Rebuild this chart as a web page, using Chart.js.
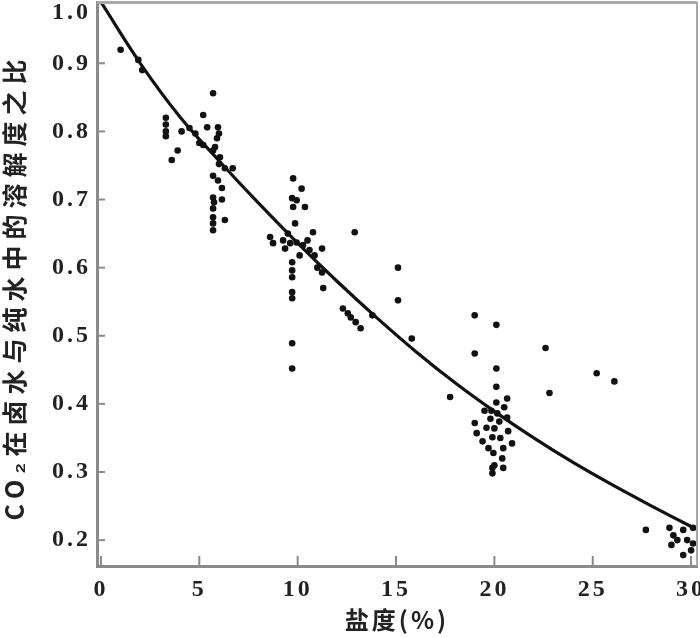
<!DOCTYPE html>
<html>
<head>
<meta charset="utf-8">
<script src="https://cdn.jsdelivr.net/npm/chart.js@4"></script>
<style>
html,body{margin:0;padding:0;background:#fff;}
canvas{display:block;}
</style>
</head>
<body>
<canvas id="c" width="700" height="638"></canvas>
<script>
// Scatter observations: salinity (%) and CO2 solubility ratio
const salinity = [
  1.0, 1.9, 2.1,
  3.3, 3.3, 3.3, 3.3, 3.9, 3.6, 4.1, 4.5, 4.8, 5.0,
  5.7, 5.2, 5.4, 5.95, 5.9, 6.0, 5.7, 6.05, 5.8, 6.3, 6.7, 5.7, 5.95, 6.15, 5.7, 5.75, 6.15, 5.7, 5.7, 6.3, 5.7, 5.7, 5.2, 6.0,
  9.77, 10.2, 9.72, 9.95, 9.77, 10.37, 9.87, 10.78, 8.6, 9.26, 9.95, 8.75, 9.62, 10.27, 11.24, 9.36, 10.1, 10.86, 9.72, 9.72, 9.72, 11.24, 11.3, 9.72, 9.72, 9.72, 9.72, 10.5, 10.6, 9.5, 11.0,
  12.9, 15.1, 15.1, 12.3, 12.55, 12.7, 12.95, 13.2, 13.8, 15.8,
  19.0, 20.1, 22.6, 19.0, 20.1, 20.1, 17.75, 22.8, 20.65, 20.1, 20.15, 20.65, 19.8, 19.0, 20.25, 20.0, 19.1, 19.9, 20.9, 20.45, 19.95, 20.4, 19.9, 19.9, 20.45, 19.5, 20.5, 19.6, 20.7, 19.4, 20.3, 19.7, 20.0, 19.85,
  25.2, 26.1,
  27.7, 28.9, 29.1, 29.0, 29.6, 29.8, 30.0, 29.6, 30.1, 29.3, 30.1
];
const ratio = [
  0.92, 0.905, 0.89,
  0.82, 0.81, 0.80, 0.793, 0.772, 0.758, 0.80, 0.805, 0.797, 0.783,
  0.856, 0.824, 0.806, 0.806, 0.79, 0.797, 0.772, 0.762, 0.777, 0.746, 0.746, 0.735, 0.728, 0.717, 0.703, 0.696, 0.70, 0.687, 0.674, 0.67, 0.665, 0.655, 0.78, 0.752,
  0.731, 0.716, 0.702, 0.699, 0.689, 0.689, 0.665, 0.652, 0.645, 0.64, 0.637, 0.636, 0.636, 0.633, 0.628, 0.628, 0.618, 0.618, 0.608, 0.596, 0.586, 0.593, 0.57, 0.564, 0.555, 0.489, 0.452, 0.64, 0.626, 0.65, 0.60,
  0.652, 0.60, 0.552, 0.54, 0.533, 0.527, 0.52, 0.511, 0.53, 0.496,
  0.53, 0.516, 0.482, 0.474, 0.452, 0.425, 0.41, 0.416, 0.408, 0.402, 0.386, 0.38, 0.378, 0.372, 0.374, 0.364, 0.357, 0.351, 0.342, 0.335, 0.328, 0.32, 0.306, 0.298, 0.306, 0.39, 0.395, 0.365, 0.36, 0.345, 0.35, 0.335, 0.31, 0.39,
  0.445, 0.433,
  0.215, 0.218, 0.207, 0.193, 0.215, 0.20, 0.185, 0.178, 0.218, 0.20, 0.195
];
// Fitted curve
const curveX = [0, 2, 4, 6, 8, 10, 12, 14, 16, 18, 20, 22, 24, 26, 28, 30, 30.3];
const curveY = [0.99, 0.90, 0.822, 0.757, 0.695, 0.636, 0.580, 0.527, 0.477, 0.431, 0.389, 0.350, 0.314, 0.281, 0.250, 0.220, 0.216];
const xTicksStep = 5;
const yTicksStep = 0.1;
const yTopLabel = "1.0";
const xTitle = "盐度(%)";
const yTitle = "CO₂在卤水与纯水中的溶解度之比";

const pts = salinity.map((x, i) => ({x: x, y: ratio[i]}));
const curve = curveX.map((x, i) => ({x: x, y: curveY[i]}));

const tickFont = {family: "'Liberation Serif', serif", size: 24, weight: 'bold'};
const titleFont = {family: "'Noto Sans CJK SC', sans-serif", size: 24, weight: 'bold'};
const axisGray = '#8a8a8a';

const framePlugin = {
  id: 'frame',
  beforeDraw(chart) {
    chart.ctx.letterSpacing = '3px';
  },
  afterDraw(chart) {
    const ctx = chart.ctx;
    const a = chart.chartArea;
    const xs = chart.scales.x, ys = chart.scales.y;
    ctx.save();
    // top and right frame
    ctx.strokeStyle = '#a8a8a8';
    ctx.lineWidth = 3;
    ctx.beginPath();
    ctx.moveTo(a.left, a.top + 0.5);
    ctx.lineTo(a.right, a.top + 0.5);
    ctx.stroke();
    ctx.lineWidth = 2;
    ctx.beginPath();
    ctx.moveTo(a.right, a.top);
    ctx.lineTo(a.right, a.bottom);
    ctx.stroke();
    // inward tick marks
    ctx.strokeStyle = axisGray;
    ctx.lineWidth = 2;
    xs.ticks.forEach(t => {
      const px = xs.getPixelForValue(t.value);
      if (px <= a.left + 2) return;
      ctx.beginPath();
      ctx.moveTo(px, a.bottom);
      ctx.lineTo(px, a.bottom - 10);
      ctx.stroke();
    });
    ys.ticks.forEach(t => {
      const py = ys.getPixelForValue(t.value);
      ctx.beginPath();
      ctx.moveTo(a.left, py);
      ctx.lineTo(a.left + 8, py);
      ctx.stroke();
    });
    // top tick label
    ctx.fillStyle = '#222';
    ctx.font = 'bold 24px "Liberation Serif", serif';
    ctx.textAlign = 'right';
    ctx.textBaseline = 'middle';
    ctx.letterSpacing = '3px';
    const topY = Math.max(ys.getPixelForValue(ys.max), 13);
    ctx.fillText(yTopLabel, a.left - 6, topY);
    // y axis title (rotated)
    ctx.font = 'bold 25px "Noto Sans CJK SC", sans-serif';
    ctx.letterSpacing = '6px';
    ctx.textAlign = 'center';
    ctx.translate(14, (a.top + a.bottom) / 2 + 3);
    ctx.rotate(-Math.PI / 2);
    ctx.fillText(yTitle, 0, 0);
    ctx.restore();
    chart.ctx.letterSpacing = '0px';
  }
};

new Chart(document.getElementById('c'), {
  type: 'scatter',
  data: {
    datasets: [
      {
        label: 'fit',
        data: curve,
        showLine: true,
        borderColor: '#111',
        borderWidth: 3.2,
        pointRadius: 0,
        tension: 0.4,
        fill: false,
        order: 0
      },
      {
        label: 'data',
        data: pts,
        backgroundColor: '#111',
        borderColor: '#111',
        borderWidth: 0,
        pointRadius: 3.3,
        order: 1
      }
    ]
  },
  options: {
    responsive: false,
    animation: false,
    devicePixelRatio: 1,
    layout: {autoPadding: false, padding: {top: 2, right: 3, left: 0, bottom: 0}},
    plugins: {legend: {display: false}, tooltip: {enabled: false}},
    scales: {
      x: {
        type: 'linear',
        min: -0.2,
        max: 30.3,
        grid: {display: false, drawTicks: false},
        border: {display: true, color: axisGray, width: 3},
        ticks: {
          stepSize: xTicksStep,
          includeBounds: false,
          color: '#222',
          font: tickFont,
          padding: 9,
          maxRotation: 0,
          callback: v => String(v)
        },
        title: {display: true, text: xTitle, color: '#222', font: titleFont, padding: {top: 0, bottom: 4}},
        afterFit: s => { s.height = 72; s.paddingLeft = 0; s.paddingRight = 0; }
      },
      y: {
        type: 'linear',
        min: 0.162,
        max: 0.99,
        grid: {display: false, drawTicks: false},
        border: {display: true, color: axisGray, width: 3},
        ticks: {
          stepSize: yTicksStep,
          includeBounds: false,
          color: '#222',
          font: tickFont,
          padding: 6,
          callback: v => Number(v).toFixed(1)
        },
        title: {display: false, text: yTitle},
        afterFit: s => { s.width = 97; s.paddingTop = 0; s.paddingBottom = 0; }
      }
    }
  },
  plugins: [framePlugin]
});
</script>
</body>
</html>
